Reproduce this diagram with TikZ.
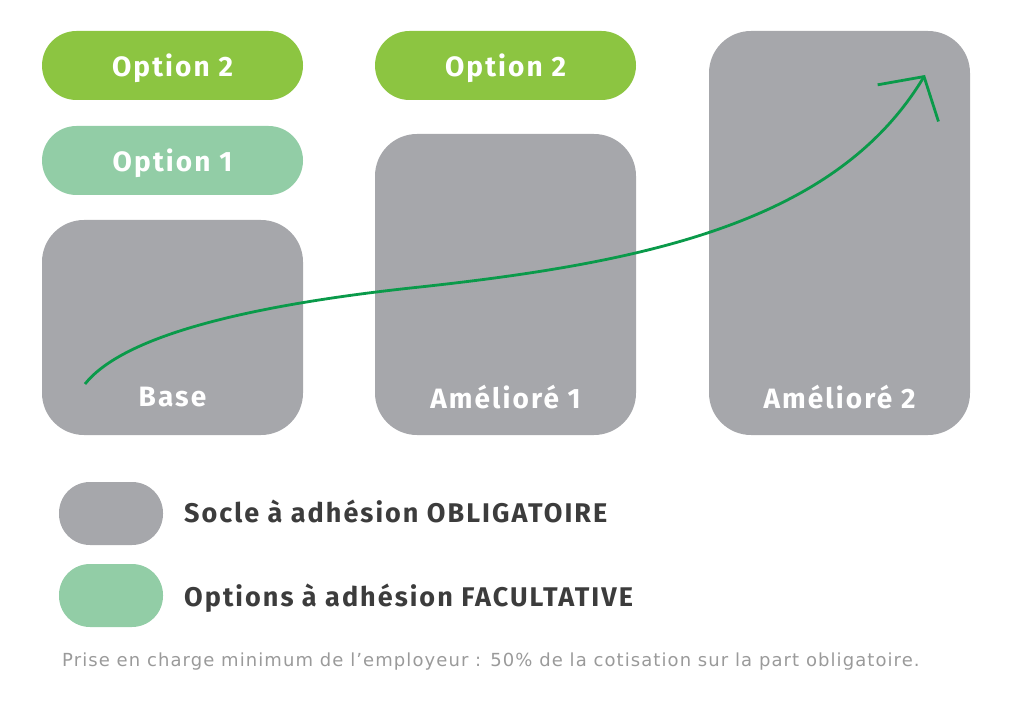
\documentclass[tikz,border=0pt]{standalone}
\usepackage{fontspec}
\usetikzlibrary{arrows.meta}
\newfontfamily\boxfont{Fira Sans}[LetterSpace=7.5]
\newfontfamily\notefont{DejaVu Sans}[LetterSpace=6]
\definecolor{blockgray}{HTML}{A6A7AB}
\definecolor{optgreen}{HTML}{8CC541}
\definecolor{optmint}{HTML}{92CDA6}
\definecolor{curvegreen}{HTML}{0A9A4A}
\definecolor{legtext}{HTML}{3C3C3C}
\definecolor{notegray}{HTML}{9A9A9A}
\begin{document}
\begin{tikzpicture}[x=1pt,y=-1pt]
    \tikzset{
        pill/.style={rounded corners=34.5pt, minimum width=261pt, minimum height=69pt, inner sep=0pt,
            text depth=0pt, text=white, font=\boxfont\bfseries\fontsize{28}{30}\selectfont},
        block/.style={fill=blockgray, rounded corners=42pt, minimum width=261pt, inner sep=0pt},
        blocklabel/.style={text=white, font=\boxfont\bfseries\fontsize{28}{30}\selectfont},
        legpill/.style={rounded corners=31pt, minimum width=104pt, minimum height=63pt, inner sep=0pt},
        legend/.style={anchor=west, inner sep=0pt, text=legtext, font=\boxfont\bfseries\fontsize{27}{30}\selectfont},
        curve/.style={draw=curvegreen, line width=2.8pt, -{Straight Barb[length=31pt, width=71pt]}}
    }
    \useasboundingbox (0,0) rectangle (1020,708);

    % the three levels
    \draw node[block, minimum height=215pt] (base) at (172.5,327.5) {};
    \draw node[block, minimum height=301pt] (amel1) at (505.5,284.5) {};
    \draw node[block, minimum height=404pt] (amel2) at (839.5,233) {};
    \foreach \b/\t in {base/Base, amel1/Amélioré 1, amel2/Amélioré 2}{
        \draw node[blocklabel] (\b-lbl) at ([yshift=38pt]\b.south) {\t};
    }

    % options
    \draw node[pill, fill=optgreen] (opt2a) at (172.5,65.5) {Option 2};
    \draw node[pill, fill=optmint] (opt1) at (172.5,160.5) {Option 1};
    \draw node[pill, fill=optgreen] (opt2b) at (505.5,65.5) {Option 2};

    % rising curve
    \coordinate (start) at (85,384);
    \coordinate (mid) at (420,287);
    \coordinate (tip) at (925,75);
    \draw[curve] (start) .. controls (120,340) and (230,307) .. (mid)
        .. controls (650,262) and (837,221) .. (tip);

    % legend
    \draw node[legpill, fill=blockgray] (legsocle) at (111,513.5) {};
    \draw node[legpill, fill=optmint] (legopt) at (111,595.5) {};
    \draw node[legend] (socletxt) at (184,511) {Socle à adhésion OBLIGATOIRE};
    \draw node[legend] (opttxt) at (184,598) {Options à adhésion FACULTATIVE};

    \draw node[anchor=west, inner sep=0pt, text=notegray, font=\notefont\fontsize{18}{20}\selectfont] (note) at (62,662)
        {Prise en charge minimum de l’employeur : 50\% de la cotisation sur la part obligatoire.};
\end{tikzpicture}
\end{document}
